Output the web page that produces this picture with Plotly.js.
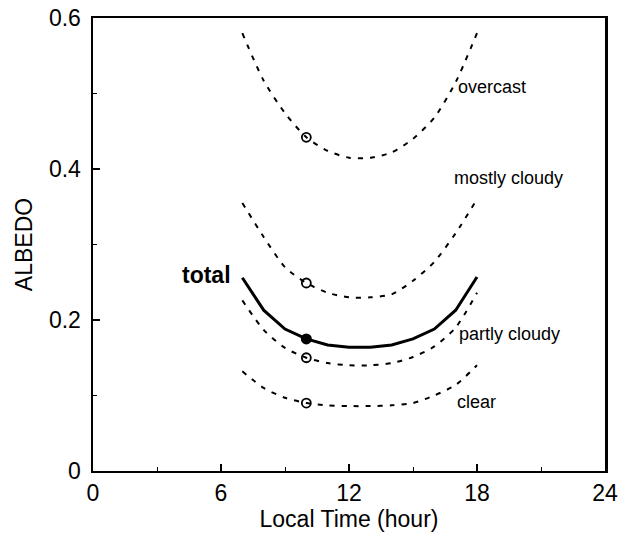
<!DOCTYPE html>
<html>
<head>
<meta charset="utf-8">
<script src="https://cdn.plot.ly/plotly-3.0.1.min.js"></script>
<style>html,body{margin:0;padding:0;background:#fff;}#chart{width:629px;height:535px;}</style>
</head>
<body>
<div id="chart"></div>
<script>
// Local time (hour)
const hours = [7, 8, 9, 10, 11, 12, 13, 14, 15, 16, 17, 18];
// Albedo by sky condition
const overcast     = [0.580, 0.517, 0.474, 0.442, 0.424, 0.415, 0.415, 0.422, 0.440, 0.468, 0.515, 0.580];
const mostlyCloudy = [0.355, 0.310, 0.270, 0.249, 0.236, 0.230, 0.230, 0.234, 0.252, 0.277, 0.315, 0.360];
const partlyCloudy = [0.226, 0.187, 0.163, 0.150, 0.143, 0.140, 0.140, 0.143, 0.151, 0.165, 0.190, 0.236];
const clearSky     = [0.132, 0.110, 0.097, 0.090, 0.087, 0.086, 0.086, 0.087, 0.090, 0.100, 0.114, 0.140];
const total        = [0.256, 0.213, 0.188, 0.175, 0.167, 0.164, 0.164, 0.167, 0.175, 0.188, 0.213, 0.257];
// Observation hour marked on each curve
const markHour = 10;
const xTicks = [0, 6, 12, 18, 24];
const xTickText = ["0", "6", "12", "18", "24"];
const yTicks = [0, 0.2, 0.4, 0.6];
const yTickText = ["0", "0.2", "0.4", "0.6"];
// Curve labels
const labelNames = ["overcast", "mostly cloudy", "partly cloudy", "clear"];
const labelX = [17.0, 16.85, 17.05, 16.95];
const labelY = [0.509, 0.388, 0.181, 0.091];

const FONT = "Liberation Sans, Arial, Helvetica, sans-serif";
const mi = hours.indexOf(markHour);

const dashed = [overcast, mostlyCloudy, partlyCloudy, clearSky];
const traces = [];
dashed.forEach(arr => {
  traces.push({x: hours, y: arr, mode: 'lines', line: {color: '#000', width: 2, dash: '5px,7px', shape: 'spline', smoothing: 0.7}, hoverinfo: 'skip'});
});
traces.push({x: hours, y: total, mode: 'lines', line: {color: '#000', width: 3}, hoverinfo: 'skip'});
traces.push({
  x: dashed.map(() => markHour), y: dashed.map(a => a[mi]), mode: 'markers',
  marker: {symbol: 'circle-open', size: 9, color: '#000', line: {width: 1.8, color: '#000'}}
});
traces.push({x: [markHour], y: [total[mi]], mode: 'markers', marker: {symbol: 'circle', size: 11, color: '#000'}});

const annotations = labelNames.map((t, i) => ({
  x: labelX[i], y: labelY[i], xref: 'x', yref: 'y', text: t, showarrow: false,
  xanchor: 'left', yanchor: 'middle', font: {family: FONT, size: 18, color: '#000'}
}));
annotations.push({x: 6.55, y: total[0] + 0.003, xref: 'x', yref: 'y', text: '<b>total</b>', showarrow: false,
  xanchor: 'right', yanchor: 'middle', font: {family: FONT, size: 23, color: '#000'}});

const layout = {
  width: 629, height: 535,
  margin: {l: 93, r: 24, t: 18, b: 64},
  paper_bgcolor: '#fff', plot_bgcolor: '#fff',
  showlegend: false,
  font: {family: FONT, color: '#000'},
  xaxis: {
    range: [0, 24], tickvals: xTicks, ticktext: xTickText,
    ticks: 'inside', ticklen: 7, tickwidth: 1.5, tickcolor: '#000',
    minor: {dtick: 3, tick0: 0, ticks: 'inside', ticklen: 4, tickwidth: 1, tickcolor: '#000'},
    showline: true, linecolor: '#000', linewidth: 2, mirror: true,
    showgrid: false, zeroline: false,
    tickfont: {family: FONT, size: 23, color: '#000'},
    title: {text: 'Local Time (hour)', font: {family: FONT, size: 23, color: '#000'}, standoff: 0}
  },
  yaxis: {
    range: [0, 0.6], tickvals: yTicks, ticktext: yTickText,
    ticks: 'inside', ticklen: 7, tickwidth: 1.5, tickcolor: '#000',
    minor: {dtick: 0.1, tick0: 0, ticks: 'inside', ticklen: 4, tickwidth: 1, tickcolor: '#000'},
    showline: true, linecolor: '#000', linewidth: 2.5, mirror: true,
    showgrid: false, zeroline: false, ticklabelstandoff: 5,
    tickfont: {family: FONT, size: 23, color: '#000'},
    title: {text: 'ALBEDO', font: {family: FONT, size: 23, color: '#000'}, standoff: 10}
  },
  annotations: annotations
};

Plotly.newPlot('chart', traces, layout, {staticPlot: true, displayModeBar: false});
</script>
</body>
</html>
